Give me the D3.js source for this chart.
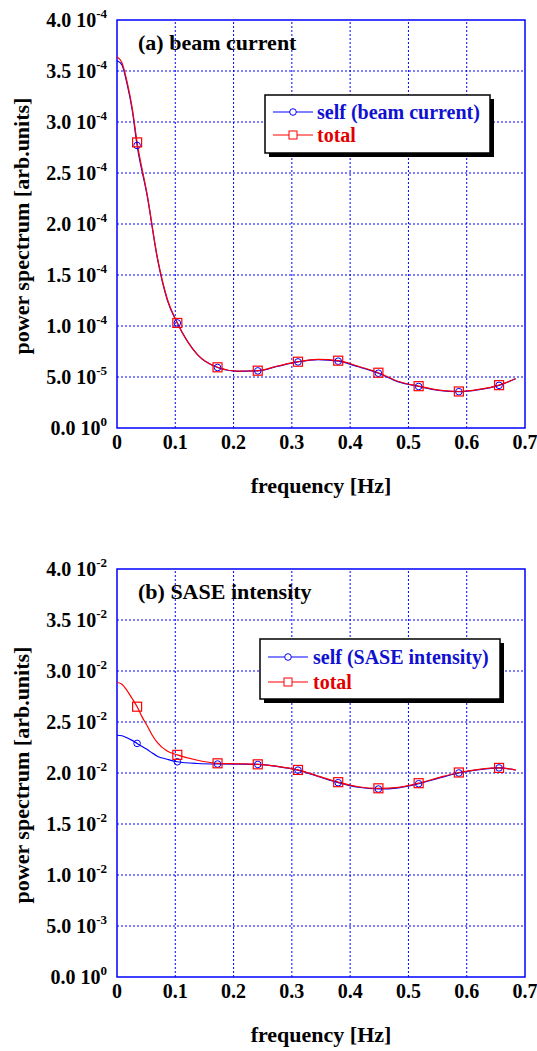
<!DOCTYPE html>
<html><head><meta charset="utf-8">
<script src="https://cdn.jsdelivr.net/npm/d3@7"></script>
<style>
html,body{margin:0;padding:0;background:#fff;}
svg text{font-family:"Liberation Serif","Times New Roman",serif;font-weight:bold;}
</style></head>
<body><svg id="chart" width="537" height="1051"></svg>
<script>
// ---- data ----
const xTicks = [0, 0.1, 0.2, 0.3, 0.4, 0.5, 0.6, 0.7];
const xTickLabels = ["0", "0.1", "0.2", "0.3", "0.4", "0.5", "0.6", "0.7"];

// panel (a): beam current, values in units of 1e-4
const freqA = [0, 0.0085, 0.017, 0.026, 0.0345, 0.052, 0.069, 0.086, 0.1035, 0.138, 0.1725, 0.207, 0.2415, 0.276, 0.3105, 0.345, 0.3795, 0.414, 0.4485, 0.483, 0.5175, 0.552, 0.5865, 0.621, 0.6555, 0.684];
const totalA = [3.64, 3.58, 3.40, 3.14, 2.80, 2.28, 1.68, 1.27, 1.03, 0.72, 0.595, 0.558, 0.562, 0.608, 0.650, 0.672, 0.660, 0.605, 0.542, 0.456, 0.410, 0.372, 0.358, 0.378, 0.420, 0.485];
const selfA  = [3.60, 3.56, 3.38, 3.12, 2.77, 2.27, 1.67, 1.26, 1.03, 0.72, 0.593, 0.556, 0.560, 0.606, 0.648, 0.670, 0.655, 0.600, 0.537, 0.452, 0.407, 0.369, 0.356, 0.376, 0.418, 0.483];
const markerIdxA = [4, 8, 10, 12, 14, 16, 18, 20, 22, 24];
const yTicksA = [0, 0.5, 1.0, 1.5, 2.0, 2.5, 3.0, 3.5, 4.0];
const yMantA = ["0.0", "5.0", "1.0", "1.5", "2.0", "2.5", "3.0", "3.5", "4.0"];
const yExpA  = ["0", "-5", "-4", "-4", "-4", "-4", "-4", "-4", "-4"];

// panel (b): SASE intensity, values in units of 1e-2
const freqB = [0, 0.0085, 0.017, 0.026, 0.0345, 0.043, 0.052, 0.0605, 0.069, 0.086, 0.1035, 0.138, 0.1725, 0.207, 0.2415, 0.276, 0.3105, 0.345, 0.3795, 0.414, 0.4485, 0.483, 0.5175, 0.552, 0.5865, 0.621, 0.6555, 0.684];
const totalB = [2.89, 2.87, 2.81, 2.73, 2.65, 2.55, 2.46, 2.37, 2.30, 2.215, 2.178, 2.125, 2.095, 2.090, 2.085, 2.065, 2.030, 1.970, 1.910, 1.865, 1.850, 1.860, 1.900, 1.955, 2.005, 2.036, 2.050, 2.030];
const selfB  = [2.37, 2.365, 2.345, 2.32, 2.29, 2.26, 2.23, 2.195, 2.165, 2.135, 2.11, 2.093, 2.088, 2.087, 2.084, 2.063, 2.028, 1.966, 1.905, 1.860, 1.843, 1.855, 1.895, 1.950, 2.000, 2.033, 2.050, 2.028];
const markerIdxB = [4, 10, 12, 14, 16, 18, 20, 22, 24, 26];
const yTicksB = [0, 0.5, 1.0, 1.5, 2.0, 2.5, 3.0, 3.5, 4.0];
const yMantB = ["0.0", "5.0", "1.0", "1.5", "2.0", "2.5", "3.0", "3.5", "4.0"];
const yExpB  = ["0", "-3", "-2", "-2", "-2", "-2", "-2", "-2", "-2"];

const panels = [
  {top: 20, title: "(a) beam current", freq: freqA, total: totalA, self: selfA, idx: markerIdxA,
   yTicks: yTicksA, mant: yMantA, exp: yExpA, legendSelf: "self (beam current)",
   legend: {x: 265, y: 95, w: 225, h: 58, l1: 112, l2: 135, lx0: 273, lx1: 313, tx: 317}},
  {top: 569, title: "(b) SASE intensity", freq: freqB, total: totalB, self: selfB, idx: markerIdxB,
   yTicks: yTicksB, mant: yMantB, exp: yExpB, legendSelf: "self (SASE intensity)",
   legend: {x: 260, y: 639, w: 240, h: 60, l1: 657, l2: 682, lx0: 268, lx1: 308, tx: 313}}
];

const BLUE = "#0000ff", RED = "#ff0000";
const svg = d3.select("#chart");
const left = 117, right = 525, plotH = 408;

panels.forEach(p => {
  const x = d3.scaleLinear().domain([0, 0.7]).range([left, right]);
  const y = d3.scaleLinear().domain([0, 4.0]).range([p.top + plotH, p.top]);
  const g = svg.append("g");

  // grid
  const grid = g.append("g").attr("stroke", BLUE).attr("stroke-width", 1).attr("stroke-dasharray", "2,2");
  xTicks.slice(1, -1).forEach(t => grid.append("line").attr("x1", x(t)).attr("x2", x(t)).attr("y1", y(0)).attr("y2", y(4)));
  p.yTicks.slice(1, -1).forEach(t => grid.append("line").attr("x1", x(0)).attr("x2", x(0.7)).attr("y1", y(t)).attr("y2", y(t)));

  // frame
  g.append("rect").attr("x", x(0)).attr("y", y(4)).attr("width", x(0.7) - x(0)).attr("height", y(0) - y(4))
    .attr("fill", "none").attr("stroke", BLUE).attr("stroke-width", 1.5);

  // x tick labels
  const xa = g.append("g");
  xTicks.forEach((t, i) => xa.append("text").attr("x", x(t)).attr("y", y(0) + 21)
    .attr("text-anchor", "middle").attr("font-size", 20).text(xTickLabels[i]));

  // y tick labels
  p.yTicks.forEach((t, i) => {
    const tx = g.append("text").attr("x", 107).attr("y", y(t) + 7).attr("text-anchor", "end").attr("font-size", 20);
    tx.append("tspan").text(p.mant[i] + " 10");
    tx.append("tspan").attr("font-size", 13).attr("dy", -9).text(p.exp[i]);
  });

  // axis titles
  g.append("text").attr("x", (left + right) / 2).attr("y", y(0) + 65).attr("text-anchor", "middle")
    .attr("font-size", 22).text("frequency [Hz]");
  g.append("text").attr("transform", `translate(29,${(y(0) + y(4)) / 2 + 2}) rotate(-90)`).attr("text-anchor", "middle")
    .attr("font-size", 22).text("power spectrum [arb.units]");

  // panel title
  g.append("text").attr("x", 138).attr("y", p.top + 30).attr("font-size", 22).text(p.title);

  // curves
  const line = d3.line().x(d => x(d[0])).y(d => y(d[1])).curve(d3.curveMonotoneX);
  const selfPts = p.freq.map((f, i) => [f, p.self[i]]);
  const totPts = p.freq.map((f, i) => [f, p.total[i]]);
  g.append("path").attr("d", line(selfPts)).attr("fill", "none").attr("stroke", BLUE).attr("stroke-width", 1.2);
  g.append("path").attr("d", line(totPts)).attr("fill", "none").attr("stroke", RED).attr("stroke-width", 1.2);

  // markers
  p.idx.forEach(i => {
    g.append("circle").attr("cx", x(p.freq[i])).attr("cy", y(p.self[i])).attr("r", 3.3)
      .attr("fill", "none").attr("stroke", BLUE).attr("stroke-width", 1);
    g.append("rect").attr("x", x(p.freq[i]) - 4.5).attr("y", y(p.total[i]) - 4.5).attr("width", 9).attr("height", 9)
      .attr("fill", "none").attr("stroke", RED).attr("stroke-width", 1.2);
  });

  // legend
  const L = p.legend;
  g.append("rect").attr("x", L.x + 4).attr("y", L.y + 4).attr("width", L.w).attr("height", L.h).attr("fill", "#000");
  g.append("rect").attr("x", L.x).attr("y", L.y).attr("width", L.w).attr("height", L.h)
    .attr("fill", "#fff").attr("stroke", "#000").attr("stroke-width", 1.5);
  const mid = (L.lx0 + L.lx1) / 2;
  g.append("line").attr("x1", L.lx0).attr("x2", L.lx1).attr("y1", L.l1).attr("y2", L.l1).attr("stroke", BLUE).attr("stroke-width", 1.2);
  g.append("circle").attr("cx", mid).attr("cy", L.l1).attr("r", 3.3).attr("fill", "#fff").attr("stroke", BLUE).attr("stroke-width", 1);
  g.append("text").attr("x", L.tx).attr("y", L.l1 + 7).attr("font-size", 20).attr("fill", "#1010d0").text(p.legendSelf);
  g.append("line").attr("x1", L.lx0).attr("x2", L.lx1).attr("y1", L.l2).attr("y2", L.l2).attr("stroke", RED).attr("stroke-width", 1.2);
  g.append("rect").attr("x", mid - 4).attr("y", L.l2 - 4).attr("width", 8).attr("height", 8).attr("fill", "#fff").attr("stroke", RED).attr("stroke-width", 1);
  g.append("text").attr("x", L.tx).attr("y", L.l2 + 7).attr("font-size", 20).attr("fill", "#e00000").text("total");
});
</script></body></html>
